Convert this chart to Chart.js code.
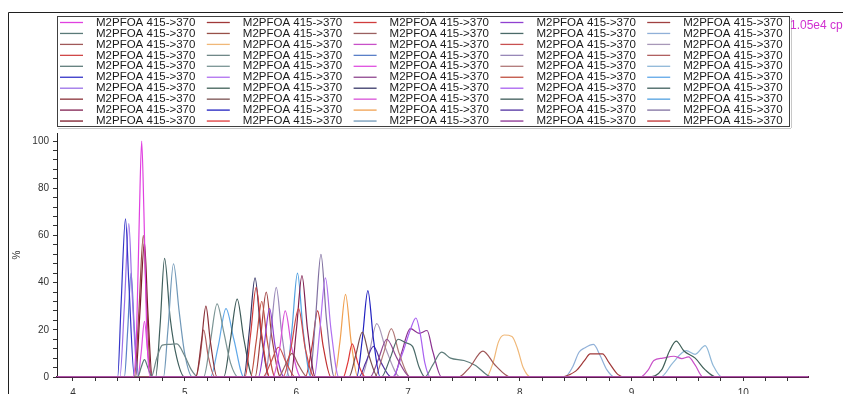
<!DOCTYPE html>
<html>
<head>
<meta charset="utf-8">
<script src="https://cdn.jsdelivr.net/npm/chart.js@4.4.1/dist/chart.umd.min.js"></script>
<style>
  html, body { margin: 0; padding: 0; background: #fff; }
  #wrap { width: 843px; height: 394px; position: relative; overflow: hidden; }
</style>
</head>
<body>
<div id="wrap"><canvas id="chrom" width="843" height="394"></canvas></div>
<script>
// M2PFOA 415->370 크로마토그램 (50 개 트레이스 겹쳐 그리기)

const legendLabel = "M2PFOA 415->370";
const intensityLabel = "1.05e4 cps";

const timeRange  = [3.857, 10.58];   // 분
const yMax       = 103.4;            // %
const xMajorTicks = [4, 5, 6, 7, 8, 9, 10];
const yMajorTicks = [0, 20, 40, 60, 80, 100];

const traceColors = [
  "#e040e0", "#5a7a78", "#a05858", "#d04848", "#5f7d7b", "#3535c8", "#9a70e8", "#8a3038", "#802050", "#7a1828",
  "#a03838", "#985048", "#f0b878", "#708888", "#7a9494", "#b070f0", "#406058", "#7a5050", "#2020c0", "#e03838",
  "#d03c3c", "#9a6060", "#c850c8", "#5a80c8", "#e050e0", "#904890", "#383868", "#d850d8", "#f0a050", "#7098b8",
  "#9040d0", "#4a6a68", "#c85050", "#9888b8", "#b07878", "#c05040", "#a860f0", "#3d5a58", "#5030a0", "#8a3090",
  "#a04040", "#90b0d8", "#a898b8", "#b06060", "#90b8d8", "#60a8e8", "#3f5f5d", "#50a0e0", "#8070a0", "#c03030"
];

// 각 트레이스의 피크 구간 [시간, 상대강도%]; 나머지 구간은 기저선 0
const peakPoints = [
  [[4.54,0],[4.57,20],[4.595,70],[4.615,100],[4.635,70],[4.66,20],[4.69,0]],
  [[4.58,0],[4.61,4],[4.64,7.4],[4.67,4],[4.71,0]],
  [[7.45,0],[7.55,4],[7.67,11],[7.78,5],[7.92,0]],
  [[5.88,0],[5.95,12],[6.02,29],[6.08,12],[6.16,0]],
  [[7.15,0],[7.22,5],[7.30,10.5],[7.38,8],[7.50,7],[7.60,5],[7.75,0]],
  [[4.40,0],[4.43,30],[4.47,67],[4.50,40],[4.55,0]],
  [[4.42,0],[4.46,30],[4.50,65],[4.53,35],[4.58,0]],
  [[5.10,0],[5.15,15],[5.19,30],[5.23,15],[5.29,0]],
  [[5.95,0],[6.00,20],[6.05,43],[6.10,20],[6.17,0]],
  [[4.56,0],[4.60,28],[4.64,57],[4.67,28],[4.71,0]],
  [[8.35,0],[8.50,2.5],[8.58,7],[8.63,9.8],[8.74,9.8],[8.80,6],[8.88,1],[8.95,0]],
  [[4.55,0],[4.59,28],[4.63,60],[4.66,30],[4.70,0]],
  [[7.70,0],[7.76,6],[7.81,15],[7.86,17.8],[7.93,17.2],[7.98,12],[8.03,4],[8.10,0]],
  [[4.70,0],[4.75,8],[4.80,13.5],[4.86,13.8],[4.93,14],[5.00,9],[5.06,3],[5.12,0]],
  [[5.17,0],[5.23,15],[5.29,31],[5.35,19],[5.41,6],[5.48,0]],
  [[6.16,0],[6.21,20],[6.26,42],[6.31,20],[6.38,0]],
  [[9.15,0],[9.27,3],[9.34,11],[9.40,15.2],[9.47,11],[9.57,8],[9.66,3],[9.76,0]],
  [[6.47,0],[6.53,9],[6.59,19],[6.65,9],[6.73,0]],
  [[6.54,0],[6.59,16],[6.64,36.6],[6.69,16],[6.75,0]],
  [[6.42,0],[6.46,6],[6.50,14],[6.55,6],[6.62,0]],
  [[5.54,0],[5.59,18],[5.64,38],[5.69,18],[5.76,0]],
  [[5.84,0],[5.90,5],[5.96,10],[6.02,5],[6.10,0]],
  [[9.08,0],[9.15,3],[9.20,7],[9.28,8],[9.38,8.8],[9.45,7.8],[9.51,8.5],[9.57,5],[9.64,0]],
  [[4.46,0],[4.49,20],[4.52,44],[4.55,20],[4.59,0]],
  [[4.58,0],[4.61,10],[4.64,23.6],[4.67,10],[4.71,0]],
  [[6.66,0],[6.73,7],[6.81,16],[6.90,8],[7.02,0]],
  [[5.53,0],[5.58,20],[5.63,42],[5.68,20],[5.76,0]],
  [[5.79,0],[5.85,12],[5.90,28],[5.96,12],[6.04,0]],
  [[6.34,0],[6.39,15],[6.44,35],[6.49,15],[6.55,0]],
  [[4.81,0],[4.85,20],[4.90,48],[4.95,28],[5.00,10],[5.07,0]],
  [[5.66,0],[5.71,13],[5.76,29],[5.81,13],[5.89,0]],
  [[6.76,0],[6.84,8],[6.91,16],[6.98,14.5],[7.04,13],[7.10,4],[7.15,0]],
  [[5.70,0],[5.77,6],[5.84,12.6],[5.91,6],[5.99,0]],
  [[5.72,0],[5.77,18],[5.82,38],[5.87,18],[5.94,0]],
  [[6.70,0],[6.78,10],[6.85,20.5],[6.92,10],[7.02,0]],
  [[5.59,0],[5.64,15],[5.69,32],[5.74,15],[5.81,0]],
  [[6.86,0],[6.95,10],[7.02,20],[7.07,25],[7.11,18],[7.15,6],[7.20,0]],
  [[5.35,0],[5.41,16],[5.47,33],[5.53,16],[5.61,0]],
  [[6.56,0],[6.62,6],[6.69,13],[6.76,6],[6.85,0]],
  [[6.87,0],[6.94,10],[7.02,20.5],[7.10,18.5],[7.17,19.7],[7.22,11],[7.30,0]],
  [[5.63,0],[5.68,17],[5.73,36],[5.78,17],[5.86,0]],
  [[8.40,0],[8.47,4],[8.53,10.5],[8.58,12.3],[8.66,13.8],[8.72,9],[8.78,3],[8.85,0]],
  [[6.58,0],[6.65,10],[6.72,22.6],[6.80,12],[6.93,0]],
  [[5.10,0],[5.14,9],[5.17,20],[5.21,9],[5.27,0]],
  [[9.26,0],[9.37,6],[9.49,11.2],[9.57,9.6],[9.66,13.3],[9.73,5],[9.81,0]],
  [[5.23,0],[5.30,13],[5.37,29],[5.44,16],[5.53,0]],
  [[4.74,0],[4.78,22],[4.82,50.3],[4.87,25],[4.93,8],[5.00,0]],
  [[5.91,0],[5.96,20],[6.01,44],[6.06,20],[6.13,0]],
  [[6.12,0],[6.17,24],[6.22,52],[6.27,24],[6.34,0]],
  [[6.08,0],[6.14,13],[6.19,28],[6.24,13],[6.31,0]]
];

// 눈금: 주눈금 사이를 5 등분
function minorTicks(majors, div) {
  const out = [];
  for (let i = 0; i < majors.length; i++) {
    out.push(majors[i]);
    if (i < majors.length - 1) {
      const step = (majors[i + 1] - majors[i]) / div;
      for (let k = 1; k < div; k++) out.push(+(majors[i] + step * k).toFixed(3));
    }
  }
  return out;
}
const xTickValues = minorTicks(xMajorTicks, 5).concat([10.2, 10.4]);
const yTickValues = minorTicks(yMajorTicks, 5);

const datasets = peakPoints.map((pts, i) => ({
  label: legendLabel,
  data: [[timeRange[0], 0], ...pts, [timeRange[1], 0]].map(([x, y]) => ({ x, y })),
  borderColor: traceColors[i],
  backgroundColor: traceColors[i],
  borderWidth: 1.2,
  pointRadius: 0,
  cubicInterpolationMode: "monotone",
  fill: false
}));

// ── 범례 박스 + 외곽 프레임 + 강도 표시 ─────────────────────────────
const framePlugin = {
  id: "frame",
  afterDraw(chart) {
    const ctx = chart.ctx;
    ctx.save();
    // 외곽 프레임
    ctx.strokeStyle = "#202020";
    ctx.lineWidth = 1;
    ctx.beginPath();
    ctx.moveTo(8.5, 394);
    ctx.lineTo(8.5, 12.5);
    ctx.lineTo(843, 12.5);
    ctx.stroke();

    // 범례 (열 우선 배치, 5 열 × 10 행)
    ctx.strokeStyle = "#404040";
    ctx.strokeRect(57.5, 16.5, 732, 110);
    ctx.strokeStyle = "#c8c8c8";
    ctx.beginPath();
    ctx.moveTo(58, 128.5); ctx.lineTo(791, 128.5);
    ctx.moveTo(791.5, 18); ctx.lineTo(791.5, 128);
    ctx.stroke();

    ctx.font = "11.5px 'Liberation Sans', Arial, sans-serif";
    ctx.textBaseline = "middle";
    ctx.textAlign = "left";
    chart.data.datasets.forEach((ds, i) => {
      const col = Math.floor(i / 10), row = i % 10;
      const x = 60 + col * 146.8;
      const y = 22 + row * 10.95;
      ctx.strokeStyle = ds.borderColor;
      ctx.lineWidth = 1.3;
      ctx.beginPath();
      ctx.moveTo(x, y + 0.5); ctx.lineTo(x + 23, y + 0.5);
      ctx.stroke();
      ctx.fillStyle = "#1a1a1a";
      ctx.fillText(ds.label, x + 36, y + 0.5);
    });

    ctx.font = "12px 'Liberation Sans', Arial, sans-serif";
    ctx.fillStyle = "#d030d0";
    ctx.fillText(intensityLabel, 790, 26);
    ctx.restore();
  }
};

const tickFont = { family: "'Liberation Sans', Arial, sans-serif", size: 10 };

new Chart(document.getElementById("chrom").getContext("2d"), {
  type: "line",
  data: { datasets },
  options: {
    responsive: false,
    devicePixelRatio: 1,
    animation: false,
    layout: { padding: { top: 133, right: 35, left: 0, bottom: 0 } },
    plugins: { legend: { display: false }, tooltip: { enabled: false } },
    scales: {
      x: {
        type: "linear",
        min: timeRange[0], max: timeRange[1],
        z: 1,
        afterBuildTicks: s => { s.ticks = xTickValues.map(v => ({ value: v })); },
        afterFit: s => { s.height = 17; },
        ticks: {
          autoSkip: false, maxRotation: 0, padding: 6,
          font: tickFont, color: "#333",
          callback: v => (Math.abs(v - Math.round(v)) < 1e-6 ? String(Math.round(v)) : "")
        },
        grid: { drawOnChartArea: false, tickLength: 4, color: "#333" },
        border: { color: "#5a1e50", width: 2 }
      },
      y: {
        min: 0, max: yMax,
        afterBuildTicks: s => { s.ticks = yTickValues.map(v => ({ value: v })); },
        afterFit: s => { s.width = 57; },
        title: { display: true, text: "%", font: tickFont, color: "#333", padding: { top: 11, bottom: 0 } },
        ticks: {
          autoSkip: false, padding: 4,
          font: tickFont, color: "#333",
          callback: v => (yMajorTicks.includes(v) ? String(v) : "")
        },
        grid: { drawOnChartArea: false, tickLength: 4, color: "#333" },
        border: { color: "#222", width: 1 }
      }
    }
  },
  plugins: [framePlugin]
});
</script>
</body>
</html>
